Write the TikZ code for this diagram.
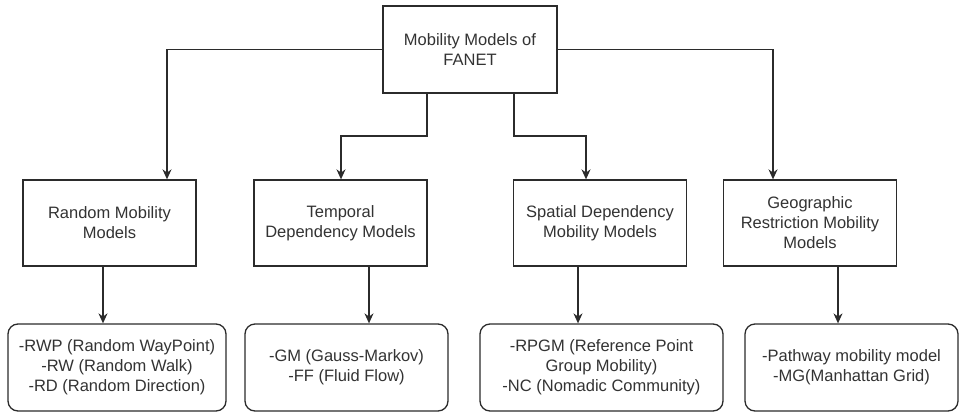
\documentclass[tikz,border=0pt]{standalone}
\usepackage{fontspec}
\setmainfont{Liberation Sans}
\usetikzlibrary{arrows.meta}
\definecolor{ink}{HTML}{2B2B2B}
\definecolor{txt}{HTML}{333333}
\tikzset{
  box/.style={draw=ink, line width=1.3pt, fill=white, align=center, text=txt,
    font=\fontsize{16.5}{20}\selectfont, inner sep=0pt},
  catbox/.style={box, minimum width=173pt, minimum height=86pt},
  listbox/.style={box, rounded corners=10pt, minimum height=87pt},
  link/.style={draw=ink, line width=1.3pt, -{Stealth[length=10pt,width=9pt]}},
}
\begin{document}
\begin{tikzpicture}[x=1pt,y=-1pt]
\useasboundingbox (0,0) rectangle (960,412);

% root
\node[box, minimum width=174pt, minimum height=87pt] (root) at (470,49.5) {Mobility Models of\\FANET};

% categories
\node[catbox] (rand) at (109.5,223) {Random Mobility\\Models};
\node[catbox] (temp) at (340.5,223) {Temporal\\Dependency Models};
\node[catbox] (spat) at (600,223) {Spatial Dependency\\Mobility Models};
\node[catbox] (geo)  at (810,223) {Geographic\\Restriction Mobility\\Models};

% model lists
\node[listbox, minimum width=218pt] (randl) at (117,367.5) {-RWP (Random WayPoint)\\-RW (Random Walk)\\-RD (Random Direction)};
\node[listbox, minimum width=203pt] (templ) at (346.5,367.5) {-GM (Gauss-Markov)\\-FF (Fluid Flow)};
\node[listbox, minimum width=243pt] (spatl) at (601.5,367.5) {-RPGM (Reference Point\\Group Mobility)\\-NC (Nomadic Community)};
\node[listbox, minimum width=213pt] (geol) at (851.5,367.5) {-Pathway mobility model\\-MG(Manhattan Grid)};

% root to categories
\coordinate (rin) at ([xshift=57.5pt]rand.north);
\coordinate (tin) at ([xshift=0.5pt]temp.north);
\coordinate (sin) at ([xshift=-14pt]spat.north);
\coordinate (gin) at ([xshift=-37pt]geo.north);
\coordinate (tout) at ([xshift=-43pt]root.south);
\coordinate (sout) at ([xshift=44pt]root.south);

\draw[link] (root.west) -| (rin);
\draw[link] (root.east) -| (gin);
\draw[link] (tout) -- (tout |- 0,136) -| (tin);
\draw[link] (sout) -- (sout |- 0,136) -| (sin);

% categories to lists
\coordinate (ra) at ([xshift=-6.5pt]rand.south);
\coordinate (ta) at ([xshift=28.5pt]temp.south);
\coordinate (sa) at ([xshift=-22pt]spat.south);
\coordinate (ga) at ([xshift=28pt]geo.south);
\draw[link] (ra) -- (ra |- randl.north);
\draw[link] (ta) -- (ta |- templ.north);
\draw[link] (sa) -- (sa |- spatl.north);
\draw[link] (ga) -- (ga |- geol.north);
\end{tikzpicture}
\end{document}
